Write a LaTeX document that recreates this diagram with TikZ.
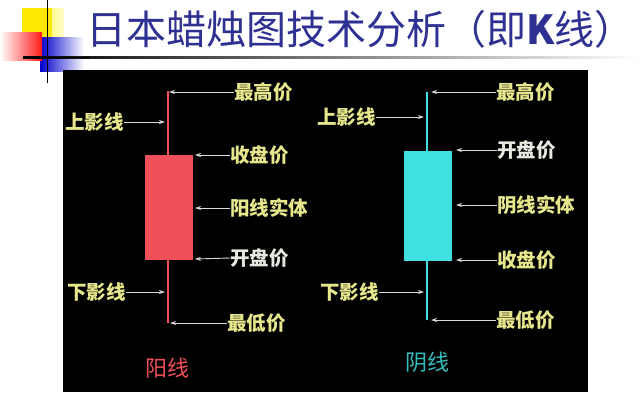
\documentclass[tikz,border=0pt]{standalone}
\usepackage{fontspec}
\newfontfamily\cjk{Noto Sans CJK SC}
\usetikzlibrary{arrows.meta}
\definecolor{titleblue}{HTML}{2E3192}
\definecolor{lblyellow}{HTML}{E6E68C}
\definecolor{lblwhite}{HTML}{E8E8E0}
\definecolor{upred}{HTML}{F0505A}
\definecolor{downcyan}{HTML}{40E0E0}
\tikzset{
  lbl/.style={font=\cjk\fontsize{19.5}{19.5}\selectfont\bfseries, text=lblyellow, inner sep=0pt},
  lblw/.style={lbl, text=lblwhite},
  ptr/.style={draw=white!85!black, line width=0.9pt, -{Stealth[length=6pt,width=4pt]}},
}
\begin{document}
\begin{tikzpicture}[x=1pt,y=-1pt]
\useasboundingbox (0,0) rectangle (640,418);
\fill[white] (0,0) rectangle (640,418);
% decoration
\shade[left color=yellow!90!orange, right color=yellow!20, shading angle=90] (22,8) rectangle (64,46);
\fill[yellow!90!orange] (22,8) rectangle (52,46);
\shade[left color=blue!80!black, right color=white] (40,37) rectangle (84,71);
\shade[left color=white, right color=red!90] (0,32) rectangle (42,60);
\draw[black, line width=1pt] (47,0) -- (47,83);
\shade[left color=black, right color=white] (23,56.5) rectangle (640,58);
\fill[black] (23,56.5) rectangle (90,58);
% title
\node[anchor=west, inner sep=0pt, text=titleblue, font=\cjk\fontsize{40}{40}\selectfont] (title) at (86,29) {日本蜡烛图技术分析（即{\bfseries K}线）};
% panel
\fill[black] (63,70) rectangle (588,392);
% red candle
\draw[upred, line width=2pt] (168,91) -- (168,323);
\fill[upred] (145,155) rectangle (193,260);
\coordinate (rtop) at (169,92);
\coordinate (rupper) at (165,122);
\coordinate (rclose) at (195,155);
\coordinate (rbody) at (195,208);
\coordinate (ropen) at (195,259);
\coordinate (rlower) at (165,292);
\coordinate (rlow) at (170,323);
\node[lbl, anchor=west] (rl1) at (234,92) {最高价};
\node[lbl, anchor=east] (rl2) at (124,122) {上影线};
\node[lbl, anchor=west] (rl3) at (230,155) {收盘价};
\node[lbl, anchor=west] (rl4) at (230,208) {阳线实体};
\node[lblw, anchor=west] (rl5) at (230,258) {开盘价};
\node[lbl, anchor=east] (rl6) at (126,292) {下影线};
\node[lbl, anchor=west] (rl7) at (227,323) {最低价};
\draw[ptr] (rl1.west) -- (rtop);
\draw[ptr] (rl2.east) -- (rupper);
\draw[ptr] (rl3.west) -- (rclose);
\draw[ptr] (rl4.west) -- (rbody);
\draw[ptr] (rl5.west) -- (ropen);
\draw[ptr] (rl6.east) -- (rlower);
\draw[ptr] (rl7.west) -- (rlow);
\node[inner sep=0pt, text=upred, font=\cjk\fontsize{22}{22}\selectfont] (rname) at (167,368) {阳线};
% cyan candle
\draw[downcyan, line width=2.2pt] (427,92) -- (427,320);
\fill[downcyan] (404,151) rectangle (452,261);
\coordinate (ctop) at (431,92);
\coordinate (cupper) at (424,117);
\coordinate (copen) at (456,150);
\coordinate (cbody) at (456,205);
\coordinate (cclose) at (456,260);
\coordinate (clower) at (424,292);
\coordinate (clow) at (431,320);
\node[lbl, anchor=west] (cl1) at (496,92) {最高价};
\node[lbl, anchor=east] (cl2) at (376,117) {上影线};
\node[lblw, anchor=west] (cl3) at (497,150) {开盘价};
\node[lbl, anchor=west] (cl4) at (497,205) {阴线实体};
\node[lbl, anchor=west] (cl5) at (497,260) {收盘价};
\node[lbl, anchor=east] (cl6) at (379,292) {下影线};
\node[lbl, anchor=west] (cl7) at (496,320) {最低价};
\draw[ptr] (cl1.west) -- (ctop);
\draw[ptr] (cl2.east) -- (cupper);
\draw[ptr] (cl3.west) -- (copen);
\draw[ptr] (cl4.west) -- (cbody);
\draw[ptr] (cl5.west) -- (cclose);
\draw[ptr] (cl6.east) -- (clower);
\draw[ptr] (cl7.west) -- (clow);
\node[inner sep=0pt, text=downcyan!85!black, font=\cjk\fontsize{22}{22}\selectfont] (cname) at (427,362) {阴线};
\end{tikzpicture}
\end{document}
